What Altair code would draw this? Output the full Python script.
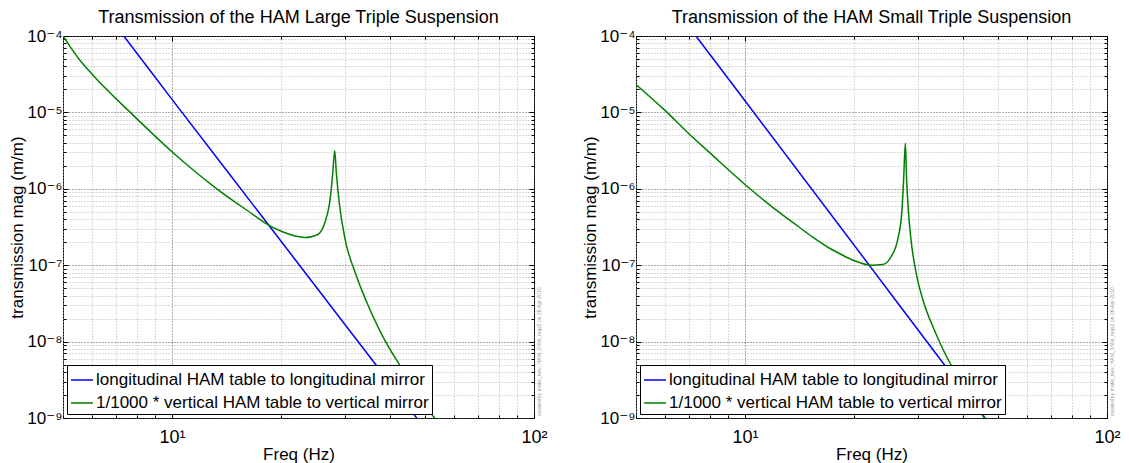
import altair as alt
import pandas as pd

FONT = "Liberation Sans, Arial, DejaVu Sans"

x_domain = [5, 100]
y_domain = [1e-9, 1e-4]

series_names = ["longitudinal HAM table to longitudinal mirror",
                "1/1000 * vertical HAM table to vertical mirror"]
series_colors = ["#0000ff", "#008000"]

panel_titles = ["Transmission of the HAM Large Triple Suspension",
                "Transmission of the HAM Small Triple Suspension"]
credit_text = "created by make_new_HAM_SNW_reqs2 on 26-Apr-2010"

# ---- HAM Large Triple Suspension ----
large_long_f = [5, 7.36, 10, 18, 30, 47.5, 100]
large_long_mag = [1.09e-3, 1.0e-4, 1.48e-5, 3.96e-7, 1.69e-8, 9.9e-10, 9.9e-12]

large_vert_f = [5, 5.5, 6, 7.67, 10, 13.3, 16.8, 18.1, 20.1, 23.4, 25.2, 26.5,
                27.4, 27.8, 28.15, 28.45, 29.06, 30.1, 32.1, 34.4, 37.8, 43.4,
                47.5, 52.8, 58]
large_vert_mag = [1.0e-4, 5.2e-5, 3.2e-5, 1.0e-5, 3.06e-6, 1.0e-6, 4.56e-7,
                  3.56e-7, 2.76e-7, 2.31e-7, 2.50e-7, 3.73e-7, 7.9e-7, 1.6e-6,
                  3.15e-6, 1.6e-6, 5.86e-7, 2.15e-7, 7.9e-8, 3.4e-8, 1.29e-8,
                  4.24e-9, 2.15e-9, 1.04e-9, 5.6e-10]

# ---- HAM Small Triple Suspension ----
small_long_f = [5, 7.32, 10, 22.3, 30, 45.7, 100]
small_long_mag = [1.09e-3, 1.0e-4, 1.42e-5, 9.3e-8, 1.44e-8, 1.03e-9, 7.6e-12]

small_vert_f = [5, 6, 7, 8, 10, 12, 13.7, 15.2, 16.9, 18.5, 20.0, 22.3, 24.0,
                25.3, 26.4, 27.1, 27.43, 27.73, 27.96, 28.3, 28.75, 29.7, 31.2,
                33.3, 34.8, 37.8, 45.8, 50]
small_vert_mag = [2.32e-5, 1.07e-5, 5.25e-6, 2.95e-6, 1.14e-6, 5.6e-7, 3.5e-7,
                  2.43e-7, 1.73e-7, 1.37e-7, 1.15e-7, 1.0e-7, 1.02e-7, 1.28e-7,
                  2.15e-7, 4.8e-7, 1.31e-6, 3.94e-6, 1.31e-6, 4.8e-7, 2.15e-7,
                  7.9e-8, 3.2e-8, 1.44e-8, 8.96e-9, 4.2e-9, 1.04e-9, 5.6e-10]

# tick values
x_major = [10, 100]
x_minor = [5, 6, 7, 8, 9, 20, 30, 40, 50, 60, 70, 80, 90]
y_major = [1e-9, 1e-8, 1e-7, 1e-6, 1e-5, 1e-4]
y_minor = [k * 10.0 ** e for e in range(-9, -4) for k in range(2, 10)]

sup = {"-9": "⁻⁹", "-8": "⁻⁸", "-7": "⁻⁷", "-6": "⁻⁶", "-5": "⁻⁵",
       "-4": "⁻⁴", "1": "¹", "2": "²"}

EXP = "round(log(datum.value)/LN10)"
IS_DEC = "abs(log(datum.value)/LN10 - round(log(datum.value)/LN10)) < 0.001"


def label_expr(keys):
    expr = "''"
    for k in reversed(keys):
        expr = f"({EXP} == {k} ? '{sup[k]}' : {expr})"
    return f"{IS_DEC} ? '10' + {expr} : ''"


grid_color = {"condition": {"test": IS_DEC, "value": "#555555"}, "value": "#b4b4b4"}


def make_df(lf, lm, vf, vm):
    rows = []
    for f, m in zip(lf, lm):
        rows.append({"f": f, "mag": m, "series": series_names[0]})
    for f, m in zip(vf, vm):
        rows.append({"f": f, "mag": m, "series": series_names[1]})
    return pd.DataFrame(rows)


def tick_axis(orient, values, size):
    return alt.Axis(orient=orient, values=values, offset=-size, tickSize=size,
                    ticks=True, labels=False, domain=False, grid=False,
                    title=None, tickColor="black", tickWidth=1,
                    minExtent=0, maxExtent=0)


def panel(df, title):
    xs = alt.Scale(type="log", domain=x_domain, nice=False)
    ys = alt.Scale(type="log", domain=y_domain, nice=False)

    main = alt.Chart(df).mark_line(clip=True, strokeWidth=1.5,
                                   interpolate="monotone").encode(
        x=alt.X("f:Q", scale=xs, axis=alt.Axis(
            orient="bottom", values=x_major + x_minor, labelExpr=label_expr(["1", "2"]),
            labelOverlap=False, labelFlush=False, labelFontSize=18, labelFont=FONT,
            labelColor="black", labelPadding=10, ticks=False, domain=False,
            grid=True, gridColor=grid_color, gridDash=[1, 2], gridWidth=1,
            title="Freq (Hz)", titleFontSize=17, titleFont=FONT,
            titleFontWeight="normal", titleColor="black", titlePadding=0)),
        y=alt.Y("mag:Q", scale=ys, axis=alt.Axis(
            orient="left", values=y_major + y_minor,
            labelExpr=label_expr(["-9", "-8", "-7", "-6", "-5", "-4"]),
            labelOverlap=False, labelFlush=False, labelFontSize=17, labelFont=FONT,
            labelColor="black", labelPadding=1, ticks=False, domain=False,
            grid=True, gridColor=grid_color, gridDash=[1, 2], gridWidth=1,
            title="transmission mag (m/m)", titleFontSize=17, titleFont=FONT,
            titleFontWeight="normal", titleColor="black", titlePadding=0)),
        color=alt.Color("series:N",
                        scale=alt.Scale(domain=series_names, range=series_colors),
                        legend=alt.Legend(
                            title=None, orient="bottom-left", offset=4,
                            fillColor="white", strokeColor="black", padding=3,
                            labelFontSize=17, labelFont=FONT, labelColor="black",
                            symbolType="stroke", symbolStrokeWidth=1.5,
                            symbolSize=484, rowPadding=3, labelOffset=2,
                            labelLimit=0)),
    )

    ticks = []
    for orient_x, orient_y in [("top", "right"), ("bottom", "left")]:
        for vals_x, vals_y, size in [(x_major, y_major, 5), (x_minor, y_minor, 3)]:
            ticks.append(
                alt.Chart(df).mark_line(opacity=0, clip=True).encode(
                    x=alt.X("f:Q", scale=xs, axis=tick_axis(orient_x, vals_x, size)),
                    y=alt.Y("mag:Q", scale=ys, axis=tick_axis(orient_y, vals_y, size)),
                )
            )

    note_df = pd.DataFrame({"f": [x_domain[1]], "mag": [y_domain[0]],
                            "note": [credit_text]})
    note = alt.Chart(note_df).mark_text(
        angle=270, align="left", baseline="top", fontSize=5, color="#999999",
        font=FONT, dx=2, dy=3, clip=False).encode(
        x=alt.X("f:Q", scale=xs, axis=None),
        y=alt.Y("mag:Q", scale=ys, axis=None),
        text="note:N")

    return alt.layer(main, *ticks, note).resolve_axis(
        x="independent", y="independent"
    ).properties(
        width=471, height=382,
        title=alt.Title(title, fontSize=18, fontWeight="normal", font=FONT,
                        color="black", anchor="middle", frame="group", offset=0),
    )


p1 = panel(make_df(large_long_f, large_long_mag, large_vert_f, large_vert_mag),
           panel_titles[0])
p2 = panel(make_df(small_long_f, small_long_mag, small_vert_f, small_vert_mag),
           panel_titles[1])

chart = alt.hconcat(p1, p2, spacing=102, bounds="flush").resolve_scale(
    color="independent"
).resolve_legend(color="independent").configure_view(
    stroke="black", strokeWidth=1
).properties(background="white", padding=0)

chart.save("out.html", embed_options={"renderer": "svg", "actions": False})
